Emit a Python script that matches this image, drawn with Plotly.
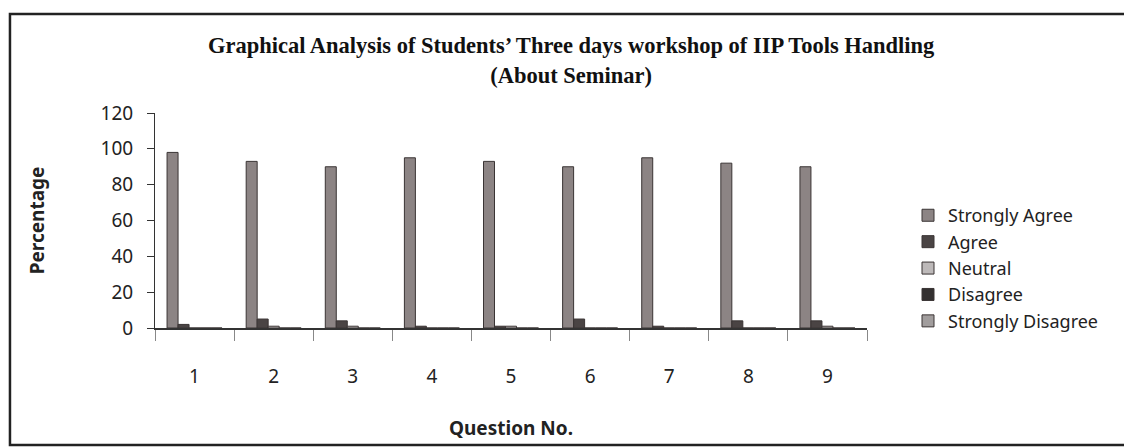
import plotly.graph_objects as go

questions = ["1", "2", "3", "4", "5", "6", "7", "8", "9"]
strongly_agree = [98, 93, 90, 95, 93, 90, 95, 92, 90]
agree = [2, 5, 4, 1, 1, 5, 1, 4, 4]
neutral = [0, 1, 1, 0, 1, 0, 0, 0, 1]
disagree = [0, 0, 0, 0, 0, 0, 0, 0, 0]
strongly_disagree = [0, 0, 0, 0, 0, 0, 0, 0, 0]

series = [
    ("Strongly Agree", strongly_agree, "#8c8484"),
    ("Agree", agree, "#4a4444"),
    ("Neutral", neutral, "#bdb9b9"),
    ("Disagree", disagree, "#333030"),
    ("Strongly Disagree", strongly_disagree, "#a19d9d"),
]

fig = go.Figure()
for name, vals, col in series:
    fig.add_trace(go.Bar(
        x=questions, y=vals, name=name,
        marker=dict(color=col, line=dict(color="#3a3434", width=1)),
    ))

fig.update_layout(
    width=1124, height=440,
    paper_bgcolor="white", plot_bgcolor="white",
    margin=dict(l=147, r=265, t=105, b=120, autoexpand=False),
    barmode="group", bargap=0.305, bargroupgap=0,
    font=dict(family="Noto Sans, Open Sans, sans-serif", color="#222"),
    title=dict(
        text="Graphical Analysis of Students’ Three days workshop of IIP Tools Handling<br>(About Seminar)",
        x=0.501, xanchor="center", y=0.897, yanchor="middle",
        font=dict(family="Liberation Serif, Times New Roman, serif", size=22.5, color="#111", weight="bold"),
    ),
    legend=dict(
        x=1.0576, xanchor="left", y=0.609, yanchor="top",
        font=dict(size=18, color="#222"),
        bgcolor="rgba(0,0,0,0)", tracegroupgap=0,
    ),
    showlegend=True,
)

fig.update_yaxes(
    range=[0, 120], dtick=20, showgrid=False, zeroline=False, automargin=False,
    showline=True, linecolor="#333", linewidth=1,
    ticks="outside", ticklen=7, tickcolor="#333",
    tickfont=dict(size=19, color="#222"), ticklabelstandoff=10,
    title=dict(text="<b>Percentage</b>", font=dict(size=19, color="#222"), standoff=50),
)
fig.update_xaxes(
    showgrid=False, showline=True, linecolor="#333", linewidth=1.5, automargin=False,
    ticks="outside", ticklen=11, tickcolor="#888", tickson="boundaries",
    tickfont=dict(size=19, color="#222"), ticklabelstandoff=30,
    title=dict(text="<b>Question No.</b>", font=dict(size=19, color="#222"), standoff=34),
)

# outer frame of the scanned figure
fig.add_shape(type="rect", xref="paper", yref="paper",
              x0=-0.2037, x1=1.40, y0=-0.544, y1=1.4605,
              line=dict(color="#222", width=2.5), fillcolor="rgba(0,0,0,0)", layer="below")

fig.write_html("out.html")
